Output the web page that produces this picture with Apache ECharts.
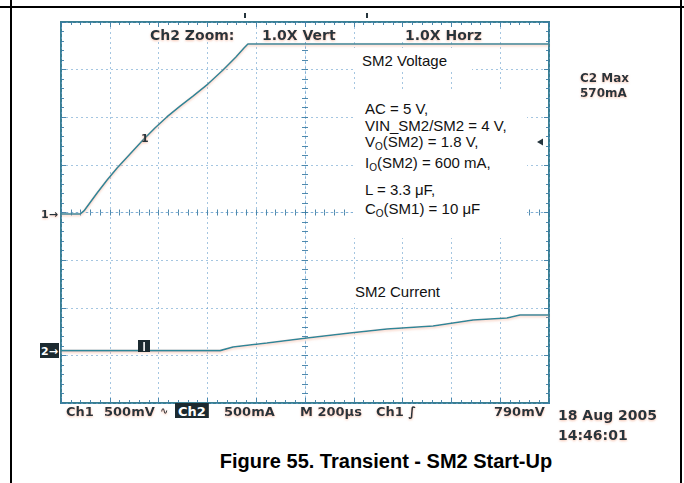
<!DOCTYPE html>
<html>
<head>
<meta charset="utf-8">
<script src="https://cdn.jsdelivr.net/npm/echarts@6/dist/echarts.min.js"></script>
<style>
html,body{margin:0;padding:0;background:#fff;}
#c{width:684px;height:483px;}
</style>
</head>
<body>
<div id="c"></div>
<script>
// ---------------- data ----------------
// time in µs relative to screen centre (200 µs / div, 10 div)
const voltTimeUs = [-1000, -922, -906, -852, -811, -770, -717, -664, -615, -566, -512, -459, -398, -336, -283, -250, -234, -20, 1000];
// Ch1 (SM2 voltage) in volts, 500 mV / div
const voltV      = [-0.016, -0.016, 0.016, 0.205, 0.341, 0.467, 0.614, 0.761, 0.887, 1.003, 1.118, 1.223, 1.349, 1.496, 1.632, 1.727, 1.769, 1.769, 1.769];
const currTimeUs = [-1000, -348, -295, -156, 8, 184, 336, 525, 689, 828, 881, 1000];
// Ch2 (SM2 current) in mA, 500 mA / div
const currMA     = [0, 0, 38, 80, 132, 185, 227, 258, 321, 342, 374, 374];

const traceNames   = ['SM2 Voltage', 'SM2 Current'];
const topLabels    = ['Ch2 Zoom:', '1.0X Vert', '1.0X Horz'];
const statusLabels = ['Ch1', '500mV', '∿', 'Ch2', '500mA', 'M 200µs', 'Ch1 ∫', '790mV'];
const dateLabels   = ['18 Aug 2005', '14:46:01'];
const cursorLabels = ['C2 Max', '570mA'];
const conditionLines = [
  [['AC = 5 V,']],
  [['VIN_SM2/SM2 = 4 V,']],
  [['V'], ['O', 1], ['(SM2) = 1.8 V,']],
  [['I'], ['O', 1], ['(SM2) = 600 mA,']],
  [['L = 3.3 μF,']],
  [['C'], ['O', 1], ['(SM1) = 10 μF']]
];
const captionText = 'Figure 55. Transient - SM2 Start-Up';

// ---------------- styling ----------------
const G = {left: 61, top: 22, width: 488, height: 381};
const gridColor = 'rgba(105,160,205,0.6)';
const tickColor = 'rgba(60,125,165,0.9)';
const traceColor = '#2d8798';
const ink = '#25353d';
const halo = 'rgba(238,150,115,0.55)';
const scopeFont = 'bold 14px "DejaVu Sans", sans-serif';
const statusFont = 'bold 13px "DejaVu Sans", sans-serif';
const scopeFontS = 'bold 12px "DejaVu Sans", sans-serif';
const condFont = '15px "Liberation Sans", Arial, sans-serif';
const subFont = '10px "Liberation Sans", Arial, sans-serif';

const mctx = document.createElement('canvas').getContext('2d');
function tw(t, f) { mctx.font = f; return mctx.measureText(t).width; }

function txt(t, x, y, font, fill, align, extra) {
  return {
    type: 'text', z: 100,
    style: Object.assign({
      text: t, x: x, y: y, font: font, fill: fill,
      textAlign: align || 'left', align: align || 'left',
      textVerticalAlign: 'middle', verticalAlign: 'middle'
    }, extra || {})
  };
}
function scopeTxt(t, x, y, font, fill) {
  return txt(t, x, y, font || scopeFont, fill || ink, 'left',
    {textShadowColor: halo, textShadowBlur: 2, textShadowOffsetY: 1});
}
function rect(x, y, w, h, fill, z) {
  return {type: 'rect', z: z || 90, shape: {x: x, y: y, width: w, height: h}, style: {fill: fill}};
}

// ---------------- axes ----------------
const tickStyle = {color: tickColor, width: 1};
function xAx(position, onZero, split, tickLen) {
  return {
    type: 'value', min: -1000, max: 1000, interval: 200, position: position,
    axisLine: onZero ? {show: position === 'bottom', onZero: true, onZeroAxisIndex: 0, lineStyle: {color: gridColor, type: [2, 3]}}
                     : {show: false, onZero: false},
    axisTick: {show: true, inside: true, length: tickLen, lineStyle: tickStyle},
    minorTick: {show: true, splitNumber: 5, length: 3, lineStyle: tickStyle},
    axisLabel: {show: false},
    splitLine: {show: split, lineStyle: {color: gridColor, type: [2, 3], width: 1}},
    minorSplitLine: {show: false}
  };
}
function yAx(position, onZero, split, tickLen) {
  return {
    type: 'value', min: -2, max: 2, interval: 0.5, position: position,
    axisLine: onZero ? {show: position === 'left', onZero: true, onZeroAxisIndex: 0, lineStyle: {color: gridColor, type: [2, 3]}}
                     : {show: false, onZero: false},
    axisTick: {show: true, inside: true, length: tickLen, lineStyle: tickStyle},
    minorTick: {show: true, splitNumber: 5, length: 3, lineStyle: tickStyle},
    axisLabel: {show: false},
    splitLine: {show: split, lineStyle: {color: gridColor, type: [2, 3], width: 1}},
    minorSplitLine: {show: false}
  };
}

// ---------------- graphics (annotation text etc.) ----------------
const g = [];
// page frame
g.push({type: 'line', z: 100, shape: {x1: 0, y1: 7, x2: 684, y2: 7}, style: {stroke: '#000', lineWidth: 2}});
g.push({type: 'line', z: 100, shape: {x1: 11, y1: 0, x2: 11, y2: 483}, style: {stroke: '#000', lineWidth: 2}});
g.push({type: 'line', z: 100, shape: {x1: 681, y1: 0, x2: 681, y2: 483}, style: {stroke: '#000', lineWidth: 2}});

// top labels
const topX = [150, 262, 405];
topLabels.forEach((t, i) => {
  g.push(rect(topX[i] - 3, 27, tw(t, scopeFont) + 6, 15, '#fff'));
  g.push(scopeTxt(t, topX[i], 35));
});
// small trigger marks above the graticule
g.push(rect(244, 13, 2, 5, ink));
g.push(rect(366, 13, 2, 5, ink));

// trace names
g.push(rect(354, 48, 118, 24, '#fff'));
g.push(txt(traceNames[0], 362, 60, condFont, '#111'));
g.push(rect(342, 279, 118, 24, '#fff'));
g.push(txt(traceNames[1], 355, 291, condFont, '#111'));

// conditions box
g.push(rect(353, 90, 174, 148, '#fff'));
const condY = [108, 125, 141, 162, 189, 208];
conditionLines.forEach((parts, i) => {
  let cx = 365;
  parts.forEach(p => {
    const sub = p[1] === 1;
    const f = sub ? subFont : condFont;
    g.push(txt(p[0], cx, sub ? condY[i] + 5 : condY[i], f, '#111'));
    cx += tw(p[0], f);
  });
});

// cursor readout
g.push(scopeTxt(cursorLabels[0], 580, 78, scopeFontS));
g.push(scopeTxt(cursorLabels[1], 580, 93, scopeFontS));

// trigger level marker on right edge
g.push({type: 'polygon', z: 100, shape: {points: [[537, 142], [543, 138.5], [543, 145.5]]}, style: {fill: ink}});

// channel ground markers
g.push(scopeTxt('1→', 41, 214, 'bold 11px "DejaVu Sans", sans-serif'));
g.push(rect(40, 343, 19, 15, '#1c2a30'));
g.push(txt('2→', 41, 351, 'bold 11px "DejaVu Sans", sans-serif', '#fff'));
// channel labels on traces
g.push(scopeTxt('1', 141, 138, 'bold 11px "DejaVu Sans", sans-serif'));
g.push(rect(138, 340, 12, 12, '#1c2a30', 95));
g.push(rect(143.3, 342, 1.6, 9, '#fff', 96));

// status line
const stX = [66, 104, 160, 0, 224, 300, 376, 494];
statusLabels.forEach((t, i) => {
  if (i === 3) {
    const w = tw(t, statusFont);
    g.push(rect(175, 403, w + 6, 15, '#1c2a30'));
    g.push(txt(t, 178, 411, statusFont, '#fff'));
  } else if (i === 2) {
    g.push(scopeTxt(t, stX[i], 410, 'bold 10px "DejaVu Sans", sans-serif'));
  } else {
    g.push(scopeTxt(t, stX[i], 411, statusFont));
  }
});
g.push(scopeTxt(dateLabels[0], 558, 415));
g.push(scopeTxt(dateLabels[1], 558, 435));

// caption
g.push(txt(captionText, 386, 461, 'bold 20px "Liberation Sans", Arial, sans-serif', '#000', 'center'));

// ---------------- chart ----------------
const zip = (a, b) => a.map((v, i) => [v, b[i]]);
const traceLine = {color: traceColor, width: 1.6, shadowColor: halo, shadowBlur: 2, shadowOffsetY: 1.2};

const chart = echarts.init(document.getElementById('c'), null, {renderer: 'svg', width: 684, height: 483});
chart.setOption({
  animation: false,
  backgroundColor: '#fff',
  grid: Object.assign({show: true, borderColor: '#3a7f93', borderWidth: 2, backgroundColor: 'rgba(0,0,0,0)', outerBoundsMode: 'none', containLabel: false}, G),
  xAxis: [xAx('bottom', false, true, 5), xAx('top', false, false, 5), xAx('bottom', true, false, 3), xAx('top', true, false, 3)],
  yAxis: [yAx('left', false, true, 5), yAx('right', false, false, 5), yAx('left', true, false, 3), yAx('right', true, false, 3),
          {type: 'value', min: -550, max: 3450, show: false, axisLine: {onZero: false}, splitLine: {show: false}}],
  series: [
    {name: traceNames[0], type: 'line', xAxisIndex: 0, yAxisIndex: 0, data: zip(voltTimeUs, voltV),
     showSymbol: false, symbol: 'none', lineStyle: traceLine, z: 5},
    {name: traceNames[1], type: 'line', xAxisIndex: 0, yAxisIndex: 4, data: zip(currTimeUs, currMA),
     showSymbol: false, symbol: 'none', lineStyle: traceLine, z: 5}
  ],
  graphic: {elements: g}
});
</script>
</body>
</html>
